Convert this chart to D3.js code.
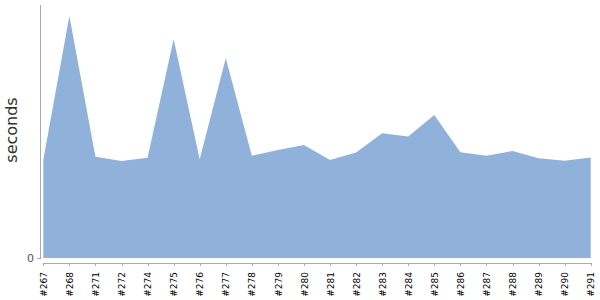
<!DOCTYPE html>
<html lang="en">
<head>
	<meta charset="utf-8">
	<title>Build times</title>
	<style>
		body { margin: 0; background: #fff; }
		.axis text { font-family: "DejaVu Sans", sans-serif; }
		.axis path, .axis line { stroke: #aaa; shape-rendering: crispEdges; }
		.area { fill: #8fb1da; }
	</style>
</head>
<body>
	<div id="chart"></div>

	<script src="https://cdnjs.cloudflare.com/ajax/libs/d3/7.8.5/d3.min.js"></script>
	<script>
		var builds = ["#267", "#268", "#271", "#272", "#274", "#275", "#276", "#277", "#278", "#279", "#280",
			"#281", "#282", "#283", "#284", "#285", "#286", "#287", "#288", "#289", "#290", "#291"];
		var seconds = [38.6, 95.3, 39.9, 38.2, 39.5, 86.1, 38.9, 78.6, 40.3, 42.5, 44.5,
			38.6, 41.5, 49.1, 47.8, 56.3, 41.6, 40.3, 42.1, 39.3, 38.3, 39.6];
		var yTicks = [0];
		var yLabel = "seconds";

		var width = 600,
		    height = 300;

		var svg = d3.select("#chart")
			.append("svg")
			.attr("width", width)
			.attr("height", height);

		var x = d3.scalePoint()
			.domain(builds)
			.range([43.3, 590.7]);

		var y = d3.scaleLinear()
			.domain([0, 100])
			.range([258, 4]);

		var data = builds.map(function(b, i) { return { build: b, value: seconds[i] }; });

		var area = d3.area()
			.x(function(d) { return x(d.build); })
			.y0(y(0))
			.y1(function(d) { return y(d.value); });

		svg.append("path")
			.datum(data)
			.attr("class", "area")
			.attr("d", area);

		// y axis, only the zero tick
		var yAxis = svg.append("g")
			.attr("class", "axis")
			.attr("transform", "translate(40,0)")
			.call(d3.axisLeft(y).tickValues(yTicks).tickSize(3).tickSizeOuter(0));
		yAxis.selectAll("text")
			.attr("fill", "#555")
			.style("font-size", "11px");

		// x axis sits a few px under the area
		var xAxis = svg.append("g")
			.attr("class", "axis")
			.attr("transform", "translate(0,263)")
			.call(d3.axisBottom(x).tickSize(3).tickSizeOuter(0));
		xAxis.selectAll("text")
			.attr("fill", "#000")
			.style("font-size", "9px")
			.style("text-anchor", "end")
			.attr("transform", "rotate(-90)")
			.attr("x", -9)
			.attr("y", 0)
			.attr("dy", "0.35em");

		svg.append("text")
			.attr("transform", "translate(17,130) rotate(-90)")
			.attr("text-anchor", "middle")
			.attr("fill", "#333")
			.style("font-family", "DejaVu Sans, sans-serif")
			.style("font-size", "16px")
			.text(yLabel);
	</script>
</body>
</html>
